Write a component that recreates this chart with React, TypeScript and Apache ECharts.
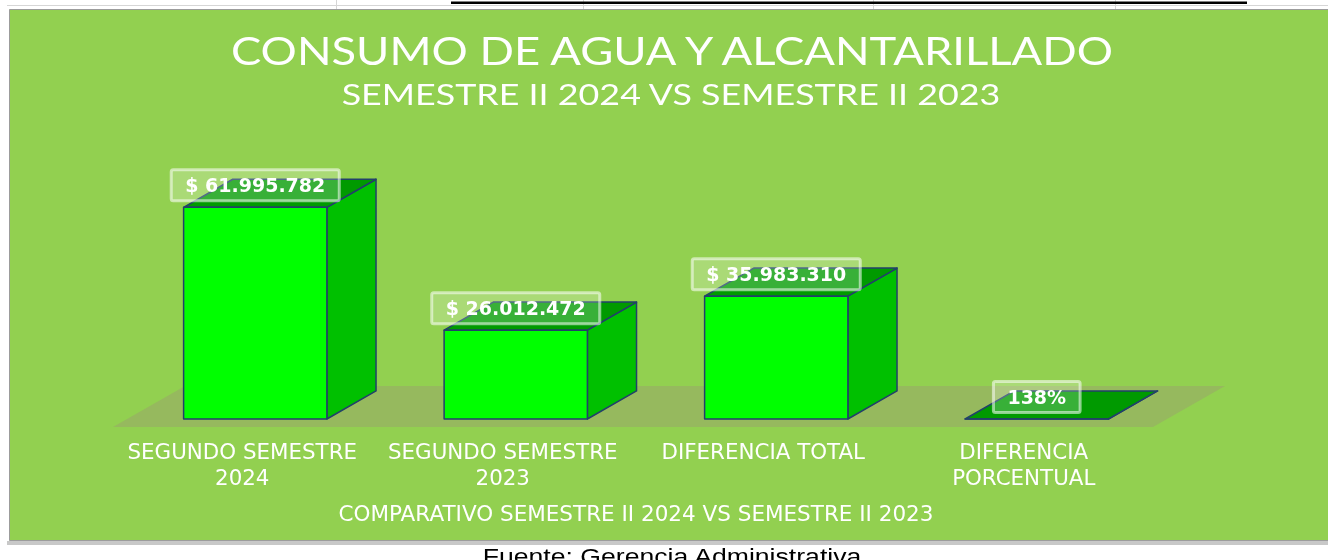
import React, { useEffect, useRef } from "react";
import * as echarts from "echarts";

const categories = [
  "SEGUNDO SEMESTRE\n2024",
  "SEGUNDO SEMESTRE\n2023",
  "DIFERENCIA TOTAL",
  "DIFERENCIA\nPORCENTUAL",
];
const values = [61995782, 26012472, 35983310, 138];
const valueUnits = ["$", "$", "$", "%"];
const yMax = 70000000;
const titleText = "CONSUMO DE AGUA Y ALCANTARILLADO";
const subtitleText = "SEMESTRE II 2024 VS SEMESTRE II 2023";
const axisTitle = "COMPARATIVO SEMESTRE II 2024 VS SEMESTRE II 2023";
const sourceText = "Fuente: Gerencia Administrativa";

function fmt(v: number, unit: string): string {
  if (unit === "%") return v + "%";
  return "$ " + String(v).replace(/\B(?=(\d{3})+(?!\d))/g, ".");
}

export default function App() {
  const ref = useRef<HTMLDivElement>(null);
  useEffect(() => {
    if (!ref.current) return;
    const chart = echarts.init(ref.current, undefined, { renderer: "svg" });
    const edge = { stroke: "#22406A", lineWidth: 1.5, lineJoin: "round" };
    const option: any = {
      animation: false,
      grid: { left: 125, top: 180, width: 1042, height: 239, containLabel: false },
      xAxis: {
        type: "category",
        data: categories,
        axisLine: { show: false },
        axisTick: { show: false },
        axisLabel: {
          color: "#FFFFFF",
          fontFamily: "DejaVu Sans",
          fontSize: 21.4,
          lineHeight: 26,
          margin: 19,
          padding: [0, 26, 0, 0],
          interval: 0,
        },
        name: axisTitle,
        nameLocation: "middle",
        nameGap: 83,
        nameTextStyle: {
          color: "#FFFFFF",
          fontFamily: "DejaVu Sans",
          fontSize: 21.5,
          padding: [0, 20, 0, 0],
        },
      },
      yAxis: { type: "value", min: 0, max: yMax, show: false },
      graphic: [
        { type: "line", shape: { x1: 7, y1: 5.5, x2: 1328, y2: 5.5 }, style: { stroke: "#D6D6D6", lineWidth: 1 } },
        ...[336, 583, 873, 1115].map((x) => ({
          type: "line", shape: { x1: x + 0.5, y1: 0, x2: x + 0.5, y2: 10 }, style: { stroke: "#D6D6D6", lineWidth: 1 },
        })),
        { type: "rect", shape: { x: 451, y: 1.5, width: 796, height: 2.5 }, style: { fill: "#000000" } },
        { type: "rect", shape: { x: 7, y: 541, width: 1330, height: 4 }, style: { fill: "#C8C8C8" } },
        { type: "rect", shape: { x: 9.5, y: 9.5, width: 1330, height: 531 }, style: { fill: "#92D050", stroke: "#9C9C9C", lineWidth: 1 } },
        {
          type: "text", x: 672, y: 50, scaleX: 1.194,
          style: { text: titleText, fill: "#FFFFFF", font: '38px "Lato"', textAlign: "center", textVerticalAlign: "middle" },
        },
        {
          type: "text", x: 671, y: 94, scaleX: 1.28,
          style: { text: subtitleText, fill: "#FFFFFF", font: '28px "Lato"', textAlign: "center", textVerticalAlign: "middle" },
        },
        {
          type: "text", x: 672, y: 545, scaleX: 1.21,
          style: { text: sourceText, fill: "#000000", font: '22px "Liberation Sans"', textAlign: "center", textVerticalAlign: "top" },
        },
      ],
      series: [
        {
          type: "custom",
          silent: true,
          data: [[0, 0]],
          encode: { x: 0, y: 1 },
          renderItem: (params: any) => {
            const cs = params.coordSys;
            const fx0 = cs.x - 12;
            const fx1 = cs.x + cs.width - 14;
            const fy = cs.y + cs.height + 8;
            const dx = 72;
            const dy = -41;
            return {
              type: "polygon",
              shape: { points: [[fx0, fy], [fx1, fy], [fx1 + dx, fy + dy], [fx0 + dx, fy + dy]] },
              style: { fill: "#96B95E" },
            };
          },
        },
        {
          type: "custom",
          data: values.map((v, i) => [i, v]),
          encode: { x: 0, y: 1 },
          renderItem: (params: any, api: any) => {
            const idx = api.value(0);
            const val = api.value(1);
            const base = api.coord([idx, 0]);
            const top = api.coord([idx, val]);
            const band = api.size([1, 0])[0];
            const bw = band * 0.55;
            const dx = bw * 0.343;
            const dy = -bw * 0.196;
            const cx = base[0];
            const x0 = cx - bw / 2;
            const x1 = cx + bw / 2;
            const yb = base[1];
            const yt = top[1];
            return {
              type: "group",
              children: [
                {
                  type: "polygon",
                  shape: { points: [[x1, yt], [x1 + dx, yt + dy], [x1 + dx, yb + dy], [x1, yb]] },
                  style: { fill: "#00C000", ...edge },
                },
                {
                  type: "polygon",
                  shape: { points: [[x0, yt], [x0 + dx, yt + dy], [x1 + dx, yt + dy], [x1, yt]] },
                  style: { fill: "#009A00", ...edge },
                },
                {
                  type: "rect",
                  shape: { x: x0, y: yt, width: bw, height: yb - yt },
                  style: { fill: "#00FF00", ...edge },
                },
                {
                  type: "text",
                  x: cx,
                  y: yt - 22,
                  style: {
                    text: fmt(values[params.dataIndex], valueUnits[params.dataIndex]),
                    fill: "#FFFFFF",
                    font: 'bold 19px "DejaVu Sans"',
                    align: "center",
                    verticalAlign: "middle",
                    backgroundColor: "rgba(255,255,255,0.22)",
                    borderColor: "rgba(255,255,255,0.55)",
                    borderWidth: 1.5,
                    borderRadius: 2,
                    padding: [6, 14, 6, 14],
                  },
                },
              ],
            };
          },
        },
      ],
    };
    chart.setOption(option);
    return () => chart.dispose();
  }, []);
  return (
    <div
      ref={ref}
      style={{ position: "fixed", left: 0, top: 0, width: 1328, height: 560 }}
    />
  );
}
